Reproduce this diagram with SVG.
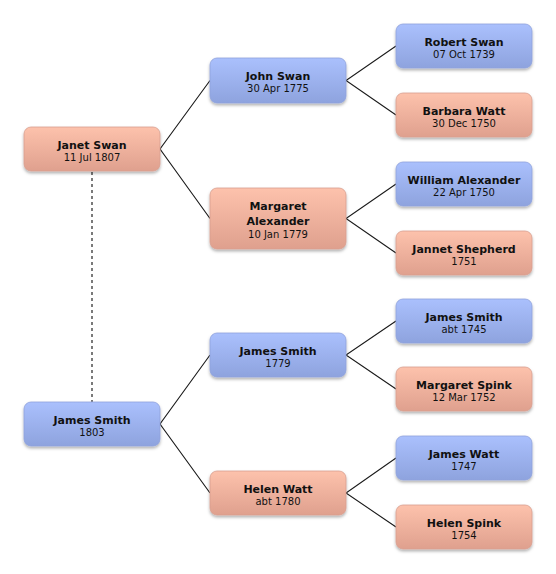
<svg xmlns="http://www.w3.org/2000/svg" width="556" height="574" viewBox="0 0 556 574">
  <defs>
    <linearGradient id="gPink" x1="0" y1="0" x2="0" y2="1">
      <stop offset="0" stop-color="#fdc2ac"/>
      <stop offset="1" stop-color="#dfa08e"/>
    </linearGradient>
    <linearGradient id="gBlue" x1="0" y1="0" x2="0" y2="1">
      <stop offset="0" stop-color="#aac0fd"/>
      <stop offset="1" stop-color="#8ea3de"/>
    </linearGradient>
    <filter id="sh" x="-10%" y="-20%" width="120%" height="150%">
      <feDropShadow dx="0" dy="2" stdDeviation="1.5" flood-color="#000" flood-opacity="0.3"/>
    </filter>
  </defs>
  <style>
    .f { fill: url(#gPink); stroke: #d8a090; stroke-width: 0.8; filter: url(#sh); }
    .m { fill: url(#gBlue); stroke: #8fa2dc; stroke-width: 0.8; filter: url(#sh); }
    .n { font-family: "DejaVu Sans", "Liberation Sans", sans-serif; font-size: 11px; font-weight: bold; fill: #111; text-anchor: middle; }
    .d { font-family: "DejaVu Sans", "Liberation Sans", sans-serif; font-size: 10px; fill: #111; text-anchor: middle; }
    .c { stroke: #1a1a1a; stroke-width: 1.1; fill: none; }
    .dash { stroke: #7a7a7a; stroke-width: 2; stroke-dasharray: 3 3; fill: none; }
  </style>
  <rect width="556" height="574" fill="#ffffff"/>

  <g id="connectors">
    <line class="dash" x1="92" y1="172" x2="92" y2="402"/>
    <polyline class="c" points="210,80.5 160,149 210,218.5"/>
    <polyline class="c" points="210,355 160,424 210,493"/>
    <polyline class="c" points="396,46 346,80.5 396,115"/>
    <polyline class="c" points="396,184 346,218.5 396,253"/>
    <polyline class="c" points="396,321 346,355 396,389"/>
    <polyline class="c" points="396,458 346,493 396,527"/>
  </g>

  <g id="janet-swan">
    <rect class="f" x="24" y="127" width="136" height="44" rx="7"/>
    <text class="n" x="92" y="149">Janet Swan</text>
    <text class="d" x="92" y="161">11 Jul 1807</text>
  </g>
  <g id="james-smith-1803">
    <rect class="m" x="24" y="402" width="136" height="44" rx="7"/>
    <text class="n" x="92" y="424">James Smith</text>
    <text class="d" x="92" y="436">1803</text>
  </g>

  <g id="john-swan">
    <rect class="m" x="210" y="58" width="136" height="45" rx="7"/>
    <text class="n" x="278" y="80">John Swan</text>
    <text class="d" x="278" y="92">30 Apr 1775</text>
  </g>
  <g id="margaret-alexander">
    <rect class="f" x="210" y="188" width="136" height="61" rx="7"/>
    <text class="n" x="278" y="209.5">Margaret</text>
    <text class="n" x="278" y="225">Alexander</text>
    <text class="d" x="278" y="237.5">10 Jan 1779</text>
  </g>
  <g id="james-smith-1779">
    <rect class="m" x="210" y="333" width="136" height="44" rx="7"/>
    <text class="n" x="278" y="355">James Smith</text>
    <text class="d" x="278" y="367">1779</text>
  </g>
  <g id="helen-watt">
    <rect class="f" x="210" y="471" width="136" height="44" rx="7"/>
    <text class="n" x="278" y="493">Helen Watt</text>
    <text class="d" x="278" y="505">abt 1780</text>
  </g>

  <g id="robert-swan">
    <rect class="m" x="396" y="24" width="136" height="44" rx="7"/>
    <text class="n" x="464" y="46">Robert Swan</text>
    <text class="d" x="464" y="58">07 Oct 1739</text>
  </g>
  <g id="barbara-watt">
    <rect class="f" x="396" y="93" width="136" height="44" rx="7"/>
    <text class="n" x="464" y="115">Barbara Watt</text>
    <text class="d" x="464" y="127">30 Dec 1750</text>
  </g>
  <g id="william-alexander">
    <rect class="m" x="396" y="162" width="136" height="44" rx="7"/>
    <text class="n" x="464" y="184">William Alexander</text>
    <text class="d" x="464" y="196">22 Apr 1750</text>
  </g>
  <g id="jannet-shepherd">
    <rect class="f" x="396" y="231" width="136" height="44" rx="7"/>
    <text class="n" x="464" y="253">Jannet Shepherd</text>
    <text class="d" x="464" y="265">1751</text>
  </g>
  <g id="james-smith-1745">
    <rect class="m" x="396" y="299" width="136" height="44" rx="7"/>
    <text class="n" x="464" y="321">James Smith</text>
    <text class="d" x="464" y="333">abt 1745</text>
  </g>
  <g id="margaret-spink">
    <rect class="f" x="396" y="367" width="136" height="44" rx="7"/>
    <text class="n" x="464" y="389">Margaret Spink</text>
    <text class="d" x="464" y="401">12 Mar 1752</text>
  </g>
  <g id="james-watt">
    <rect class="m" x="396" y="436" width="136" height="44" rx="7"/>
    <text class="n" x="464" y="458">James Watt</text>
    <text class="d" x="464" y="470">1747</text>
  </g>
  <g id="helen-spink">
    <rect class="f" x="396" y="505" width="136" height="44" rx="7"/>
    <text class="n" x="464" y="527">Helen Spink</text>
    <text class="d" x="464" y="539">1754</text>
  </g>
</svg>
